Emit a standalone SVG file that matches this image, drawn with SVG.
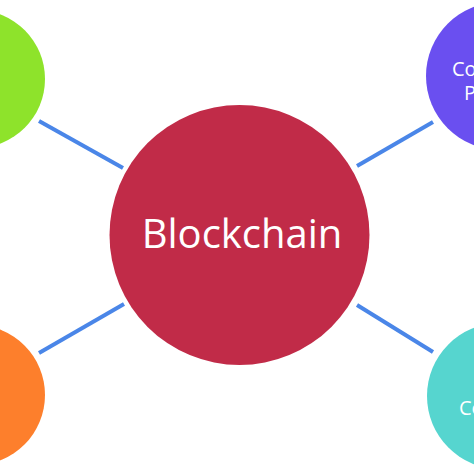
<svg xmlns="http://www.w3.org/2000/svg" width="474" height="474" viewBox="0 0 474 474">
<style>
.lbl{font-family:"Open Sans","Noto Sans",sans-serif;fill:#ffffff}
.conn{stroke:#4a86e8;stroke-width:4;stroke-linecap:butt}
</style>
<rect width="474" height="474" fill="#ffffff"/>
<g id="connectors">
<line class="conn" x1="39" y1="121" x2="123" y2="168"/>
<line class="conn" x1="357" y1="166" x2="433" y2="122"/>
<line class="conn" x1="39" y1="353" x2="124" y2="304"/>
<line class="conn" x1="357" y1="305" x2="433" y2="352"/>
</g>
<g id="node-blockchain">
<circle cx="239.5" cy="235" r="130" fill="#c12b48"/>
<text class="lbl" x="242" y="248" font-size="40" text-anchor="middle">Blockchain</text>
</g>
<g id="node-top-left">
<circle cx="-24" cy="79" r="69" fill="#8ee32b"/>
</g>
<g id="node-bottom-left">
<circle cx="-25" cy="395" r="70" fill="#fd7f2c"/>
</g>
<g id="node-top-right">
<circle cx="500" cy="76" r="74" fill="#6a4ff0"/>
<text class="lbl" x="452" y="76" font-size="20">Co</text>
<text class="lbl" x="464" y="100" font-size="20">P</text>
</g>
<g id="node-bottom-right">
<circle cx="500" cy="396" r="73" fill="#56d5cf"/>
<text class="lbl" x="459" y="415" font-size="20">Co</text>
</g>
</svg>
